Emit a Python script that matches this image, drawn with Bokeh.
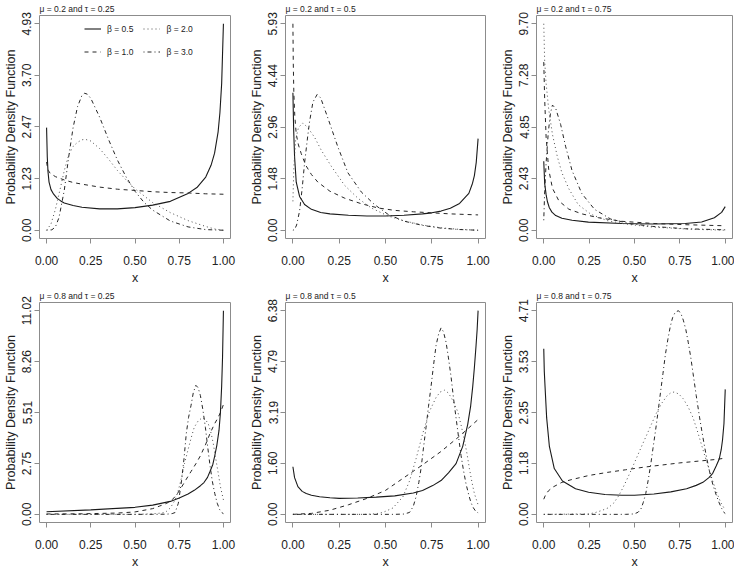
from bokeh.plotting import figure
from bokeh.layouts import column, row
from bokeh.models import Range1d, FixedTicker, Legend, LegendItem
from bokeh.embed import file_html
from bokeh.resources import INLINE

# ---------------- data ----------------
titles = ["μ = 0.2 and τ = 0.25", "μ = 0.2 and τ = 0.5", "μ = 0.2 and τ = 0.75",
          "μ = 0.8 and τ = 0.25", "μ = 0.8 and τ = 0.5", "μ = 0.8 and τ = 0.75"]
beta_labels = ["β = 0.5", "β = 1.0", "β = 2.0", "β = 3.0"]
x_tick_labels = ["0.00", "0.25", "0.50", "0.75", "1.00"]
y_tick_labels = [
    ["0.00", "1.23", "2.47", "3.70", "4.93"],
    ["0.00", "1.48", "2.96", "4.44", "5.93"],
    ["0.00", "2.43", "4.85", "7.28", "9.70"],
    ["0.00", "2.75", "5.51", "8.26", "11.02"],
    ["0.00", "1.60", "3.19", "4.79", "6.38"],
    ["0.00", "1.18", "2.35", "3.53", "4.71"],
]

# panel 1: mu=0.2, tau=0.25
p1_x05 = [0, 0.004, 0.008, 0.014, 0.025, 0.04, 0.06, 0.08, 0.1, 0.15, 0.2, 0.3, 0.4, 0.5, 0.6, 0.7, 0.8, 0.85, 0.9, 0.93, 0.95, 0.97, 0.98, 0.99, 1.0]
p1_y05 = [2.45, 1.75, 1.4, 1.15, 0.97, 0.86, 0.76, 0.7, 0.65, 0.59, 0.55, 0.51, 0.51, 0.54, 0.6, 0.69, 0.88, 1.02, 1.27, 1.55, 1.84, 2.35, 2.8, 3.5, 4.93]
p1_x10 = [0, 0.005, 0.01, 0.02, 0.05, 0.1, 0.15, 0.2, 0.3, 0.4, 0.5, 0.6, 0.7, 0.8, 0.9, 1.0]
p1_y10 = [1.63, 1.5, 1.43, 1.36, 1.28, 1.2, 1.14, 1.1, 1.03, 0.98, 0.95, 0.92, 0.9, 0.89, 0.87, 0.86]
p1_x20 = [0, 0.025, 0.05, 0.075, 0.1, 0.125, 0.15, 0.175, 0.2, 0.22, 0.25, 0.3, 0.35, 0.4, 0.45, 0.5, 0.6, 0.7, 0.8, 0.9, 0.95, 1.0]
p1_y20 = [0, 0.15, 0.5, 0.95, 1.42, 1.8, 2.0, 2.1, 2.16, 2.17, 2.13, 1.95, 1.7, 1.43, 1.2, 0.99, 0.66, 0.42, 0.23, 0.09, 0.03, 0]
p1_x30 = [0, 0.03, 0.05, 0.07, 0.1, 0.125, 0.15, 0.175, 0.2, 0.215, 0.23, 0.25, 0.3, 0.35, 0.4, 0.45, 0.5, 0.55, 0.6, 0.7, 0.8, 0.9, 1.0]
p1_y30 = [0, 0.01, 0.08, 0.3, 0.95, 1.75, 2.45, 2.95, 3.22, 3.27, 3.25, 3.15, 2.7, 2.17, 1.68, 1.27, 0.93, 0.67, 0.48, 0.22, 0.08, 0.015, 0]

# panel 2: mu=0.2, tau=0.5
p2_x05 = [0, 0.004, 0.009, 0.018, 0.036, 0.063, 0.1, 0.15, 0.2, 0.3, 0.4, 0.5, 0.6, 0.7, 0.75, 0.8, 0.85, 0.9, 0.95, 0.97, 0.98, 0.99, 1.0]
p2_y05 = [3.95, 2.9, 2.11, 1.38, 0.97, 0.74, 0.6, 0.51, 0.47, 0.43, 0.41, 0.41, 0.43, 0.47, 0.5, 0.55, 0.63, 0.77, 1.06, 1.35, 1.57, 1.95, 2.63]
p2_x10 = [0, 0.002, 0.005, 0.01, 0.018, 0.03, 0.045, 0.07, 0.1, 0.135, 0.2, 0.28, 0.37, 0.46, 0.55, 0.65, 0.75, 0.85, 1.0]
p2_y10 = [5.93, 4.8, 3.95, 3.3, 2.76, 2.45, 2.2, 1.86, 1.6, 1.38, 1.12, 0.92, 0.76, 0.64, 0.57, 0.53, 0.5, 0.47, 0.44]
p2_x20 = [0, 0.005, 0.015, 0.03, 0.054, 0.08, 0.117, 0.153, 0.207, 0.279, 0.351, 0.423, 0.513, 0.6, 0.7, 0.8, 0.9, 1.0]
p2_y20 = [0.83, 1.8, 2.6, 2.95, 3.08, 2.95, 2.67, 2.3, 1.84, 1.29, 0.92, 0.64, 0.41, 0.27, 0.15, 0.07, 0.025, 0]
p2_x30 = [0, 0.009, 0.02, 0.036, 0.05, 0.063, 0.08, 0.09, 0.108, 0.131, 0.15, 0.189, 0.243, 0.297, 0.369, 0.44, 0.513, 0.6, 0.7, 0.8, 0.9, 1.0]
p2_y30 = [0, 0.02, 0.15, 0.55, 1.2, 1.93, 2.7, 3.12, 3.68, 3.9, 3.8, 3.22, 2.39, 1.65, 1.1, 0.74, 0.46, 0.26, 0.14, 0.06, 0.02, 0]

# panel 3: mu=0.2, tau=0.75
p3_x05 = [0, 0.005, 0.013, 0.02, 0.03, 0.045, 0.066, 0.1, 0.156, 0.246, 0.43, 0.6, 0.78, 0.87, 0.94, 0.98, 1.0]
p3_y05 = [3.24, 2.2, 1.67, 1.35, 1.07, 0.85, 0.69, 0.56, 0.47, 0.38, 0.32, 0.29, 0.32, 0.39, 0.59, 0.84, 1.11]
p3_x10 = [0, 0.005, 0.013, 0.027, 0.048, 0.084, 0.138, 0.21, 0.3, 0.43, 0.6, 0.78, 1.0]
p3_y10 = [7.9, 6.17, 4.37, 2.87, 1.97, 1.37, 0.99, 0.77, 0.59, 0.42, 0.32, 0.26, 0.21]
p3_x20 = [0, 0.005, 0.013, 0.027, 0.048, 0.075, 0.1, 0.138, 0.19, 0.26, 0.35, 0.46, 0.6, 0.8, 1.0]
p3_y20 = [9.7, 7.95, 6.9, 5.7, 4.5, 3.45, 2.7, 1.95, 1.2, 0.75, 0.45, 0.28, 0.15, 0.05, 0]
p3_x30 = [0, 0.005, 0.013, 0.025, 0.037, 0.048, 0.066, 0.093, 0.12, 0.156, 0.21, 0.28, 0.37, 0.48, 0.6, 0.78, 1.0]
p3_y30 = [0.47, 1.8, 3.17, 4.6, 5.5, 5.88, 5.72, 4.97, 3.95, 2.8, 1.72, 0.98, 0.52, 0.3, 0.18, 0.07, 0.02]

# panel 4: mu=0.8, tau=0.25
p4_x05 = [0, 0.25, 0.5, 0.6, 0.7, 0.75, 0.8, 0.835, 0.87, 0.89, 0.91, 0.924, 0.94, 0.951, 0.963, 0.975, 0.983, 0.99, 0.995, 1.0]
p4_y05 = [0.14, 0.24, 0.38, 0.5, 0.7, 0.88, 1.1, 1.3, 1.55, 1.72, 2.0, 2.32, 2.7, 3.17, 3.75, 4.54, 5.5, 6.93, 8.5, 11.02]
p4_x10 = [0, 0.2, 0.4, 0.5, 0.6, 0.637, 0.68, 0.709, 0.735, 0.763, 0.79, 0.817, 0.845, 0.87, 0.9, 0.924, 0.95, 0.969, 0.985, 1.0]
p4_y10 = [0.02, 0.03, 0.07, 0.13, 0.31, 0.44, 0.6, 0.78, 1.05, 1.47, 1.9, 2.32, 2.75, 3.17, 3.8, 4.37, 4.9, 5.22, 5.55, 5.94]
p4_x20 = [0, 0.5, 0.6, 0.65, 0.673, 0.7, 0.727, 0.745, 0.763, 0.78, 0.8, 0.818, 0.835, 0.857, 0.879, 0.897, 0.915, 0.93, 0.942, 0.955, 0.969, 0.983, 1.0]
p4_y20 = [0, 0, 0.03, 0.07, 0.12, 0.35, 0.78, 1.3, 1.98, 2.75, 3.5, 4.15, 4.71, 5.05, 5.22, 5.15, 4.88, 4.4, 3.86, 3.1, 2.32, 1.5, 0.78]
p4_x30 = [0, 0.6, 0.68, 0.71, 0.727, 0.745, 0.763, 0.777, 0.79, 0.803, 0.817, 0.83, 0.844, 0.857, 0.87, 0.884, 0.898, 0.911, 0.924, 0.937, 0.951, 0.965, 0.978, 0.99, 1.0]
p4_y30 = [0, 0, 0.01, 0.04, 0.1, 0.6, 1.81, 3.0, 4.37, 5.25, 5.9, 6.6, 6.98, 6.85, 6.42, 5.65, 4.71, 3.65, 2.66, 1.8, 1.13, 0.6, 0.27, 0.1, 0.04]

# panel 5: mu=0.8, tau=0.5
p5_x05 = [0, 0.009, 0.027, 0.05, 0.072, 0.1, 0.144, 0.2, 0.25, 0.35, 0.45, 0.55, 0.65, 0.7, 0.755, 0.8, 0.84, 0.881, 0.917, 0.944, 0.96, 0.971, 0.98, 0.989, 0.995, 1.0]
p5_y05 = [1.49, 1.15, 0.87, 0.72, 0.65, 0.6, 0.55, 0.52, 0.5, 0.51, 0.54, 0.58, 0.67, 0.75, 0.9, 1.06, 1.3, 1.59, 2.13, 2.82, 3.4, 4.0, 4.6, 5.29, 5.8, 6.38]
p5_x10 = [0, 0.1, 0.2, 0.3, 0.4, 0.5, 0.6, 0.7, 0.8, 0.9, 1.0]
p5_y10 = [0, 0.03, 0.13, 0.3, 0.5, 0.75, 1.15, 1.55, 1.97, 2.45, 2.97]
p5_x20 = [0, 0.4, 0.45, 0.486, 0.54, 0.594, 0.63, 0.665, 0.701, 0.737, 0.773, 0.795, 0.818, 0.84, 0.865, 0.89, 0.908, 0.926, 0.94, 0.953, 0.967, 0.98, 1.0]
p5_y20 = [0, 0, 0.02, 0.06, 0.2, 0.55, 1.05, 1.74, 2.53, 3.22, 3.66, 3.83, 3.89, 3.8, 3.55, 3.22, 2.8, 2.33, 1.9, 1.44, 1.0, 0.65, 0.3]
p5_x30 = [0, 0.55, 0.6, 0.63, 0.65, 0.665, 0.68, 0.692, 0.705, 0.719, 0.732, 0.746, 0.76, 0.773, 0.787, 0.8, 0.813, 0.827, 0.84, 0.854, 0.867, 0.881, 0.895, 0.908, 0.922, 0.935, 0.95, 0.962, 0.975, 0.989, 1.0]
p5_y30 = [0, 0, 0.01, 0.06, 0.25, 0.55, 1.0, 1.44, 2.08, 2.73, 3.37, 4.01, 4.7, 5.29, 5.65, 5.84, 5.72, 5.39, 4.9, 4.31, 3.65, 3.02, 2.4, 1.84, 1.35, 0.95, 0.6, 0.36, 0.2, 0.08, 0.05]

# panel 6: mu=0.8, tau=0.75
p6_x05 = [0, 0.003, 0.007, 0.016, 0.031, 0.058, 0.103, 0.175, 0.247, 0.337, 0.43, 0.5, 0.607, 0.7, 0.787, 0.84, 0.877, 0.91, 0.931, 0.95, 0.967, 0.978, 0.985, 0.993, 1.0]
p6_y05 = [3.83, 3.3, 2.96, 2.23, 1.57, 1.06, 0.77, 0.59, 0.51, 0.46, 0.44, 0.44, 0.47, 0.52, 0.59, 0.67, 0.74, 0.85, 0.95, 1.12, 1.28, 1.5, 1.72, 2.1, 2.89]
p6_x10 = [0, 0.01, 0.025, 0.05, 0.1, 0.15, 0.25, 0.35, 0.45, 0.55, 0.65, 0.75, 0.85, 0.95, 1.0]
p6_y10 = [0.35, 0.45, 0.54, 0.63, 0.74, 0.8, 0.9, 0.97, 1.03, 1.09, 1.14, 1.19, 1.23, 1.27, 1.30]
p6_x20 = [0, 0.25, 0.283, 0.32, 0.355, 0.385, 0.41, 0.437, 0.463, 0.49, 0.517, 0.544, 0.571, 0.598, 0.625, 0.652, 0.679, 0.7, 0.719, 0.745, 0.769, 0.796, 0.823, 0.85, 0.877, 0.904, 0.931, 0.955, 0.977, 1.0]
p6_y20 = [0, 0.01, 0.04, 0.09, 0.15, 0.26, 0.41, 0.62, 0.85, 1.1, 1.36, 1.62, 1.87, 2.13, 2.38, 2.58, 2.74, 2.81, 2.83, 2.78, 2.67, 2.48, 2.23, 1.88, 1.5, 1.13, 0.77, 0.48, 0.26, 0.1]
p6_x30 = [0, 0.45, 0.499, 0.52, 0.535, 0.548, 0.562, 0.575, 0.589, 0.602, 0.616, 0.63, 0.643, 0.657, 0.67, 0.684, 0.697, 0.71, 0.724, 0.742, 0.756, 0.769, 0.783, 0.796, 0.81, 0.823, 0.84, 0.859, 0.877, 0.895, 0.913, 0.931, 0.95, 0.967, 0.98, 0.994, 1.0]
p6_y30 = [0, 0, 0.01, 0.05, 0.12, 0.27, 0.48, 0.78, 1.14, 1.53, 1.94, 2.38, 2.81, 3.26, 3.69, 4.05, 4.34, 4.55, 4.67, 4.71, 4.64, 4.49, 4.27, 3.98, 3.63, 3.25, 2.75, 2.23, 1.78, 1.36, 1.0, 0.7, 0.45, 0.26, 0.14, 0.04, 0.02]

panels = [
    [(p1_x05, p1_y05), (p1_x10, p1_y10), (p1_x20, p1_y20), (p1_x30, p1_y30)],
    [(p2_x05, p2_y05), (p2_x10, p2_y10), (p2_x20, p2_y20), (p2_x30, p2_y30)],
    [(p3_x05, p3_y05), (p3_x10, p3_y10), (p3_x20, p3_y20), (p3_x30, p3_y30)],
    [(p4_x05, p4_y05), (p4_x10, p4_y10), (p4_x20, p4_y20), (p4_x30, p4_y30)],
    [(p5_x05, p5_y05), (p5_x10, p5_y10), (p5_x20, p5_y20), (p5_x30, p5_y30)],
    [(p6_x05, p6_y05), (p6_x10, p6_y10), (p6_x20, p6_y20), (p6_x30, p6_y30)],
]

# ---------------- styling ----------------
FONT = "Liberation Sans"
line_styles = [
    dict(line_color="#1a1a1a", line_dash="solid", line_width=1.1),
    dict(line_color="#262626", line_dash="4 4", line_width=1.0),
    dict(line_color="#4d4d4d", line_dash="1 3", line_width=1.0),
    dict(line_color="#262626", line_dash="1 3 4 3", line_width=1.0),
]
GREY = "#8c8c8c"

col_widths = [245, 245, 244]
col_left = [36, 40, 46]
col_right = [15, 5, 2]
row_heights = [287, 284]
row_top = [6, 12]
row_bottom = [20, 20]


def make_panel(k):
    r, c = divmod(k, 3)
    ylabels = y_tick_labels[k]
    ymax = float(ylabels[-1])
    p = figure(width=col_widths[c], height=row_heights[r], output_backend="svg",
               toolbar_location=None, tools="",
               x_range=Range1d(-0.04, 1.04), y_range=Range1d(-0.04 * ymax, 1.04 * ymax),
               min_border_left=col_left[c], min_border_right=col_right[c],
               min_border_top=row_top[r], min_border_bottom=row_bottom[r])
    p.background_fill_color = "white"
    p.border_fill_color = "white"
    p.outline_line_color = GREY
    p.outline_line_width = 1
    p.grid.visible = False

    p.title.text = titles[k]
    p.title.text_font = FONT
    p.title.text_font_size = "8.5px"
    p.title.text_font_style = "normal"
    p.title.text_color = "#222222"
    p.title.align = "left"
    p.title.standoff = 3

    xt = [float(s) for s in x_tick_labels]
    p.xaxis.ticker = FixedTicker(ticks=xt)
    p.xaxis.major_label_overrides = {v: s for v, s in zip(xt, x_tick_labels)}
    yt = [float(s) for s in ylabels]
    p.yaxis.ticker = FixedTicker(ticks=yt)
    p.yaxis.major_label_overrides = {v: s for v, s in zip(yt, ylabels)}
    p.yaxis.major_label_orientation = "vertical"

    for ax in (p.xaxis[0], p.yaxis[0]):
        ax.axis_line_color = None
        ax.major_tick_line_color = GREY
        ax.major_tick_in = 0
        ax.major_tick_out = 5
        ax.minor_tick_line_color = None
        ax.major_label_text_font = FONT
        ax.major_label_text_font_size = "12px"
        ax.major_label_text_color = "#222222"
        ax.axis_label_text_font = FONT
        ax.axis_label_text_font_size = "12.5px"
        ax.axis_label_text_font_style = "normal"
        ax.axis_label_text_color = "#222222"
    p.yaxis.major_label_standoff = 3
    p.yaxis.axis_label_standoff = 2
    p.xaxis.major_label_standoff = 12
    p.xaxis.axis_label_standoff = 3
    p.xaxis.axis_label = "x"
    p.yaxis.axis_label = "Probability Density Function"

    rends = []
    for (xs, ys), st in zip(panels[k], line_styles):
        rends.append(p.line(xs, ys, **st))

    if k == 0:
        items = [LegendItem(label=lab, renderers=[rr]) for lab, rr in zip(beta_labels, rends)]
        leg = Legend(items=items, orientation="vertical", nrows=2,
                     location=(45, 180),
                     border_line_color=None, background_fill_alpha=0,
                     label_text_font=FONT, label_text_font_size="8.5px",
                     label_text_color="#222222",
                     glyph_width=17, glyph_height=13, label_height=13,
                     label_standoff=6, spacing=10, padding=0, margin=0)
        p.add_layout(leg)
    return p


figs = [make_panel(k) for k in range(6)]
layout = column(row(*figs[:3]), row(*figs[3:]))
open("out.html", "w").write(file_html(layout, INLINE))
